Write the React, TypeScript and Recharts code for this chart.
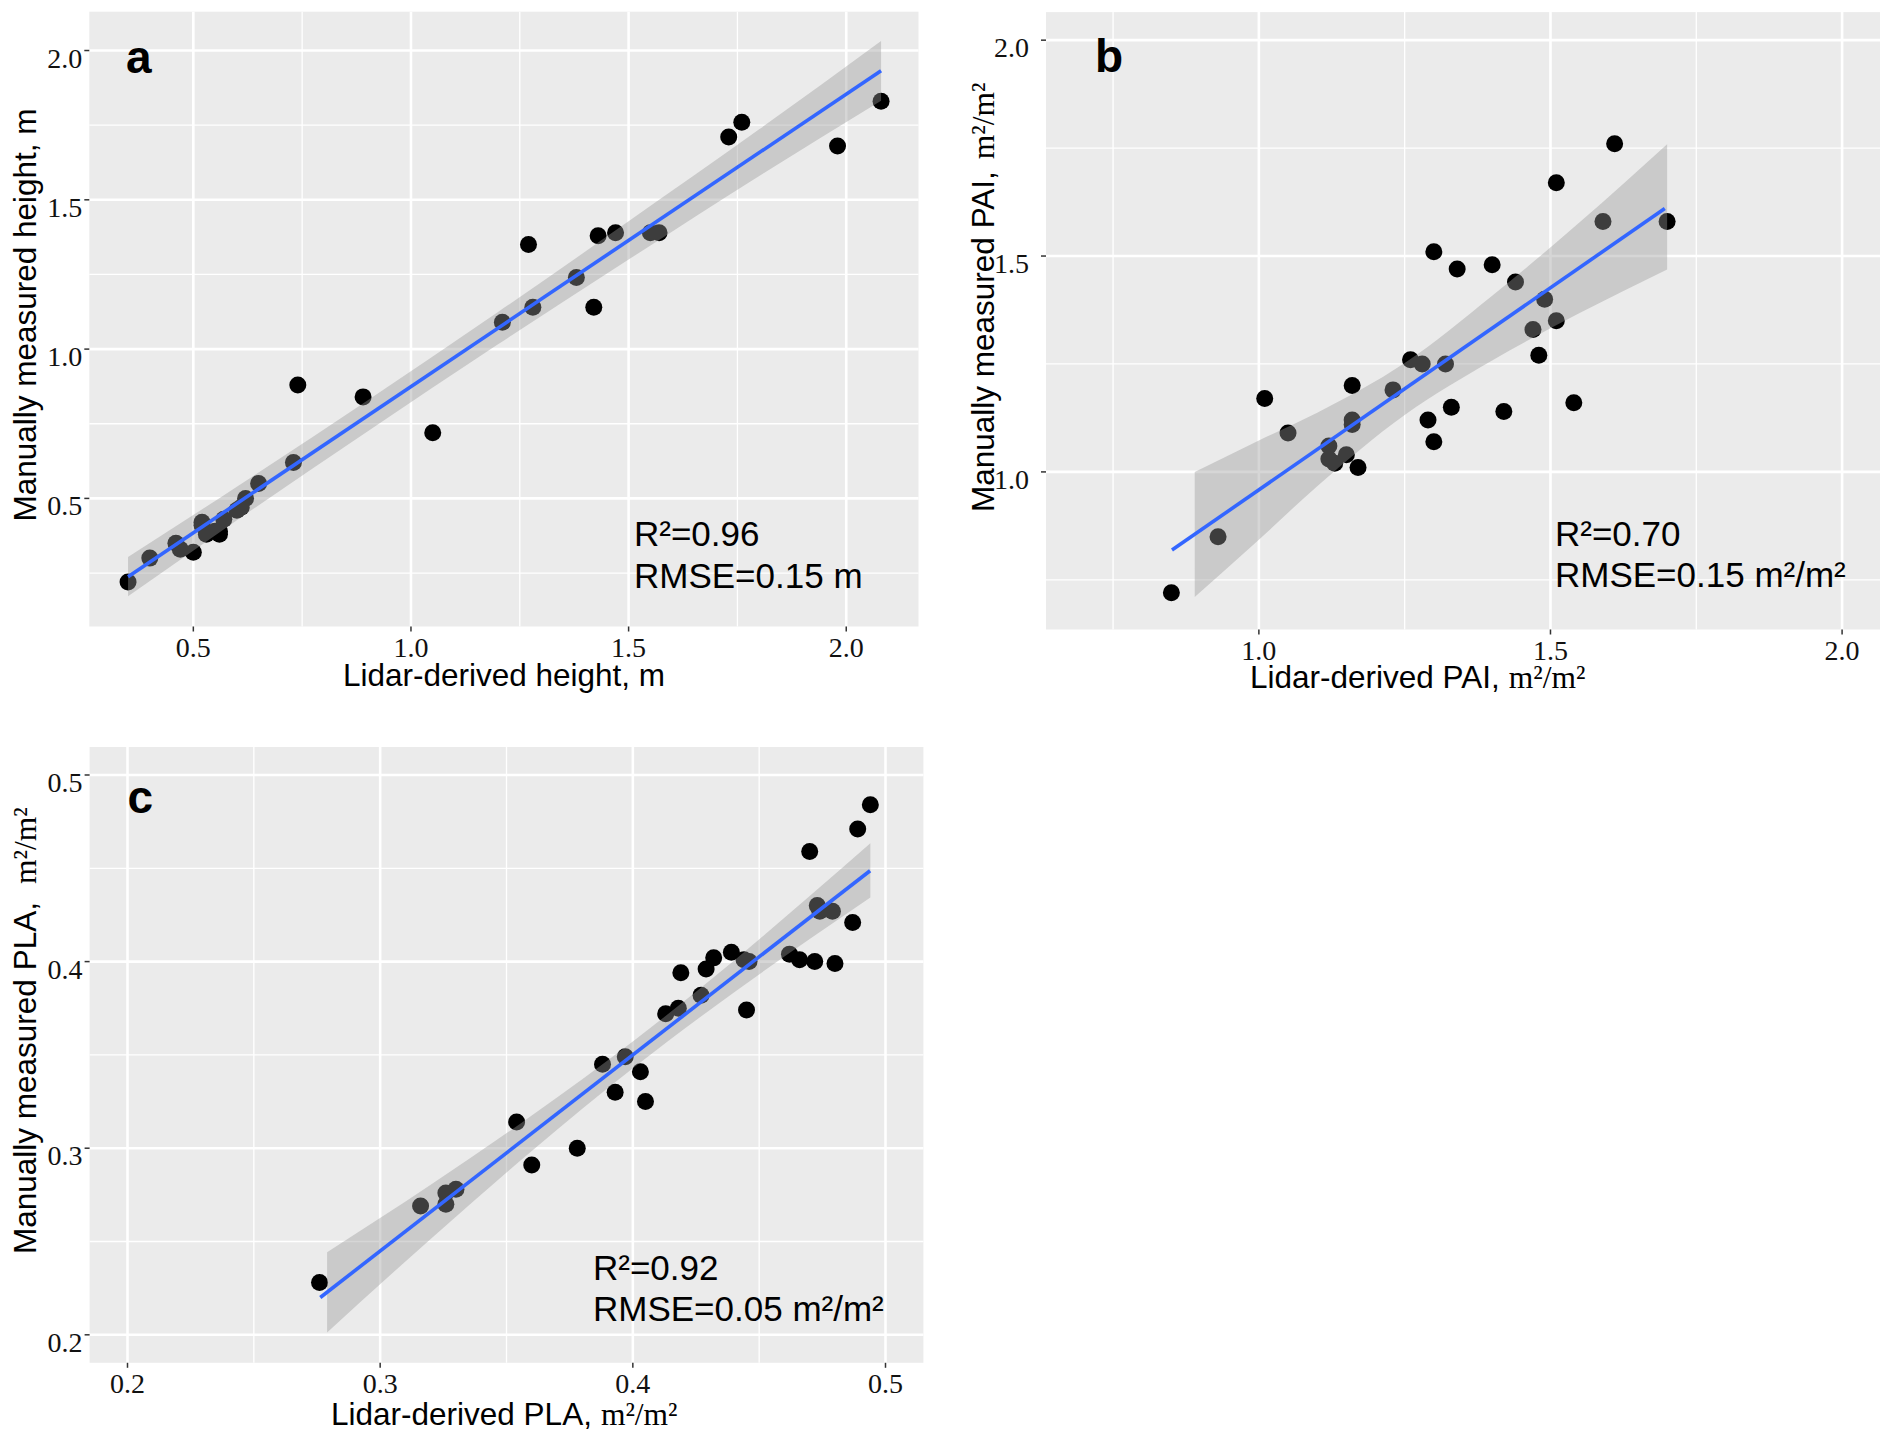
import React from "react"
import {
  ComposedChart,
  Scatter,
  Area,
  Line,
  XAxis,
  YAxis,
  CartesianGrid
} from "recharts"

const SANS = "'Liberation Sans', Arial, sans-serif"
const SERIF = "'Liberation Serif', 'Times New Roman', serif"

// panel a - plant height (m)
const heightLidar = [0.35, 0.40, 0.46, 0.47, 0.50, 0.52, 0.52, 0.53, 0.55, 0.56, 0.56, 0.57, 0.60, 0.61, 0.62, 0.65, 0.73, 0.74, 0.89, 1.05, 1.21, 1.27, 1.28, 1.38, 1.42, 1.43, 1.47, 1.55, 1.57, 1.73, 1.76, 1.98, 2.08]
const heightManual = [0.22, 0.30, 0.35, 0.33, 0.32, 0.42, 0.41, 0.38, 0.39, 0.39, 0.38, 0.43, 0.46, 0.47, 0.50, 0.55, 0.62, 0.88, 0.84, 0.72, 1.09, 1.35, 1.14, 1.24, 1.14, 1.38, 1.39, 1.39, 1.39, 1.71, 1.76, 1.68, 1.83]
const heightFitX = [0.35, 2.08]
const heightFitY = [0.238, 1.932]
const heightBandX = [0.35, 0.6, 0.9, 1.2, 1.5, 1.8, 2.08]
const heightBandLo = [0.172, 0.427, 0.724, 1.016, 1.300, 1.580, 1.832]
const heightBandHi = [0.304, 0.539, 0.828, 1.124, 1.428, 1.736, 2.032]
const heightTicks = [0.5, 1.0, 1.5, 2.0]
const heightMinor = [0.25, 0.75, 1.25, 1.75]

// panel b - PAI (m2/m2)
const paiLidar = [0.85, 0.93, 1.01, 1.05, 1.12, 1.12, 1.13, 1.15, 1.16, 1.16, 1.16, 1.17, 1.23, 1.26, 1.28, 1.29, 1.30, 1.30, 1.32, 1.33, 1.34, 1.40, 1.42, 1.44, 1.47, 1.48, 1.49, 1.51, 1.51, 1.54, 1.59, 1.61, 1.70]
const paiManual = [0.72, 0.85, 1.17, 1.09, 1.06, 1.03, 1.02, 1.04, 1.20, 1.12, 1.11, 1.01, 1.19, 1.26, 1.25, 1.12, 1.07, 1.51, 1.25, 1.15, 1.47, 1.48, 1.14, 1.44, 1.33, 1.27, 1.40, 1.67, 1.35, 1.16, 1.58, 1.76, 1.58]
const paiFitX = [0.851, 1.696]
const paiFitY = [0.819, 1.61]
const paiBandX = [0.89, 1.0, 1.1, 1.25, 1.4, 1.55, 1.70]
const paiBandLo = [0.710, 0.843, 0.967, 1.132, 1.258, 1.368, 1.469]
const paiBandHi = [1.000, 1.073, 1.137, 1.252, 1.408, 1.578, 1.759]
const paiTicks = [1.0, 1.5, 2.0]
const paiMinor = [0.75, 1.25, 1.75]

// panel c - PLA (m2/m2)
const plaLidar = [0.276, 0.316, 0.326, 0.326, 0.330, 0.354, 0.360, 0.378, 0.388, 0.393, 0.397, 0.403, 0.405, 0.413, 0.418, 0.419, 0.427, 0.429, 0.432, 0.439, 0.444, 0.445, 0.446, 0.462, 0.466, 0.470, 0.472, 0.473, 0.474, 0.479, 0.480, 0.487, 0.489, 0.494]
const plaManual = [0.228, 0.269, 0.276, 0.270, 0.278, 0.314, 0.291, 0.300, 0.345, 0.330, 0.349, 0.341, 0.325, 0.372, 0.375, 0.394, 0.382, 0.396, 0.402, 0.405, 0.401, 0.374, 0.400, 0.404, 0.401, 0.459, 0.400, 0.430, 0.427, 0.427, 0.399, 0.421, 0.471, 0.484]
const plaFitX = [0.2763, 0.4939]
const plaFitY = [0.220, 0.4487]
const plaBandX = [0.279, 0.32, 0.36, 0.40, 0.44, 0.47, 0.494]
const plaBandLo = [0.2013, 0.2514, 0.2985, 0.3428, 0.3835, 0.4121, 0.4344]
const plaBandHi = [0.2443, 0.2804, 0.3175, 0.3572, 0.4005, 0.4351, 0.4634]
const plaTicks = [0.2, 0.3, 0.4, 0.5]
const plaMinor = [0.25, 0.35, 0.45]

const toPoints = (xs: number[], ys: number[]) => xs.map((x, i) => ({ x, y: ys[i] }))
const toBand = (xs: number[], lo: number[], hi: number[]) => xs.map((x, i) => ({ x, range: [lo[i], hi[i]] }))

const Dot = (props: any) => <circle cx={props.cx} cy={props.cy} r={8.5} fill="#000" />

interface PanelProps {
  left: number
  top: number
  width: number
  height: number
  marginTop: number
  marginRight: number
  yAxisWidth: number
  xAxisHeight: number
  yLabelGap: number
  xDomain: [number, number]
  yDomain: [number, number]
  xTicks: number[]
  yTicks: number[]
  xMinor: number[]
  yMinor: number[]
  points: { x: number; y: number }[]
  band: { x: number; range: number[] }[]
  fit: { x: number; y: number }[]
}

function Panel(p: PanelProps) {
  const xTick = (t: any) => (
    <text x={t.x} y={t.y + 23} textAnchor="middle" fontFamily={SERIF} fontSize={28} fill="#111">
      {Number(t.payload.value).toFixed(1)}
    </text>
  )
  const yTick = (t: any) => (
    <text x={t.x - p.yLabelGap} y={t.y + 17} textAnchor="end" fontFamily={SERIF} fontSize={28} fill="#111">
      {Number(t.payload.value).toFixed(1)}
    </text>
  )
  return (
    <div style={{ position: "absolute", left: p.left, top: p.top }}>
      <ComposedChart
        width={p.width}
        height={p.height}
        margin={{ top: p.marginTop, right: p.marginRight, bottom: 0, left: 0 }}
      >
        <CartesianGrid fill="#EBEBEB" stroke="#FFFFFF" strokeWidth={1.3} horizontalValues={p.yMinor} verticalValues={p.xMinor} />
        <CartesianGrid stroke="#FFFFFF" strokeWidth={2.6} horizontalValues={p.yTicks} verticalValues={p.xTicks} />
        <XAxis
          type="number"
          dataKey="x"
          domain={p.xDomain}
          ticks={p.xTicks}
          interval={0}
          allowDataOverflow
          height={p.xAxisHeight}
          axisLine={false}
          tickSize={5}
          tickLine={{ stroke: "#333", strokeWidth: 1.5 }}
          tick={xTick}
        />
        <YAxis
          type="number"
          dataKey="y"
          domain={p.yDomain}
          ticks={p.yTicks}
          interval={0}
          allowDataOverflow
          width={p.yAxisWidth}
          axisLine={false}
          tickSize={5}
          tickLine={{ stroke: "#333", strokeWidth: 1.5 }}
          tick={yTick}
        />
        <Scatter data={p.points} shape={Dot} isAnimationActive={false} zIndex={50} />
        <Area
          data={p.band}
          dataKey="range"
          type="monotone"
          stroke="none"
          fill="#999999"
          fillOpacity={0.4}
          isAnimationActive={false}
          zIndex={100}
        />
        <Line
          data={p.fit}
          dataKey="y"
          type="linear"
          stroke="#3366FF"
          strokeWidth={3.6}
          dot={false}
          isAnimationActive={false}
          zIndex={400}
        />
      </ComposedChart>
    </div>
  )
}

export default function App() {
  const txt = { fontFamily: SANS, fill: "#000" }
  return (
    <div style={{ position: "absolute", left: 0, top: 0, width: 1890, height: 1435, background: "#fff" }}>
      <Panel
        left={0}
        top={0}
        width={930}
        height={700}
        marginTop={11.7}
        marginRight={11.5}
        yAxisWidth={89.3}
        xAxisHeight={73.5}
        yLabelGap={0}
        xDomain={[0.261, 2.166]}
        yDomain={[0.071, 2.13]}
        xTicks={heightTicks}
        yTicks={heightTicks}
        xMinor={heightMinor}
        yMinor={heightMinor}
        points={toPoints(heightLidar, heightManual)}
        band={toBand(heightBandX, heightBandLo, heightBandHi)}
        fit={toPoints(heightFitX, heightFitY)}
      />
      <Panel
        left={950}
        top={0}
        width={940}
        height={700}
        marginTop={12.1}
        marginRight={10}
        yAxisWidth={96}
        xAxisHeight={70.5}
        yLabelGap={10}
        xDomain={[0.635, 2.065]}
        yDomain={[0.635, 2.065]}
        xTicks={paiTicks}
        yTicks={paiTicks}
        xMinor={paiMinor}
        yMinor={paiMinor}
        points={toPoints(paiLidar, paiManual)}
        band={toBand(paiBandX, paiBandLo, paiBandHi)}
        fit={toPoints(paiFitX, paiFitY)}
      />
      <Panel
        left={0}
        top={730}
        width={930}
        height={705}
        marginTop={17}
        marginRight={6.6}
        yAxisWidth={89.6}
        xAxisHeight={72.2}
        yLabelGap={0}
        xDomain={[0.185, 0.515]}
        yDomain={[0.185, 0.515]}
        xTicks={plaTicks}
        yTicks={plaTicks}
        xMinor={plaMinor}
        yMinor={plaMinor}
        points={toPoints(plaLidar, plaManual)}
        band={toBand(plaBandX, plaBandLo, plaBandHi)}
        fit={toPoints(plaFitX, plaFitY)}
      />
      <svg width={1890} height={1435} style={{ position: "absolute", left: 0, top: 0, pointerEvents: "none" }}>
        {/* panel a */}
        <text x={126} y={73} {...txt} fontWeight={700} fontSize={46}>a</text>
        <text x={634} y={546} {...txt} fontSize={35}>R²=0.96</text>
        <text x={634} y={588} {...txt} fontSize={35}>RMSE=0.15 m</text>
        <text x={504} y={686} {...txt} fontSize={31.5} textAnchor="middle">Lidar-derived height, m</text>
        <text transform="translate(36,315) rotate(-90)" {...txt} fontSize={31.5} textAnchor="middle">
          Manually measured height, m
        </text>

        {/* panel b */}
        <text x={1095} y={71.5} {...txt} fontWeight={700} fontSize={46}>b</text>
        <text x={1555} y={546} {...txt} fontSize={35}>R²=0.70</text>
        <text x={1555} y={587} {...txt} fontSize={35}>RMSE=0.15 m²/m²</text>
        <text x={1250} y={688} {...txt} fontSize={31.5}>
          Lidar-derived PAI,
          <tspan fontFamily={SERIF} dx={9}>m²/m²</tspan>
        </text>
        <text transform="translate(994,512) rotate(-90)" {...txt} fontSize={31.5}>
          Manually measured PAI,
          <tspan fontFamily={SERIF} dx={12}>m²/m²</tspan>
        </text>

        {/* panel c */}
        <text x={127.5} y={813} {...txt} fontWeight={700} fontSize={46}>c</text>
        <text x={593} y={1280} {...txt} fontSize={35}>R²=0.92</text>
        <text x={593} y={1321} {...txt} fontSize={35}>RMSE=0.05 m²/m²</text>
        <text x={331} y={1425} {...txt} fontSize={31.5}>
          Lidar-derived PLA,
          <tspan fontFamily={SERIF} dx={9}>m²/m²</tspan>
        </text>
        <text transform="translate(36,1254) rotate(-90)" {...txt} fontSize={31.5}>
          Manually measured PLA,
          <tspan fontFamily={SERIF} dx={18}>m²/m²</tspan>
        </text>
      </svg>
    </div>
  )
}
